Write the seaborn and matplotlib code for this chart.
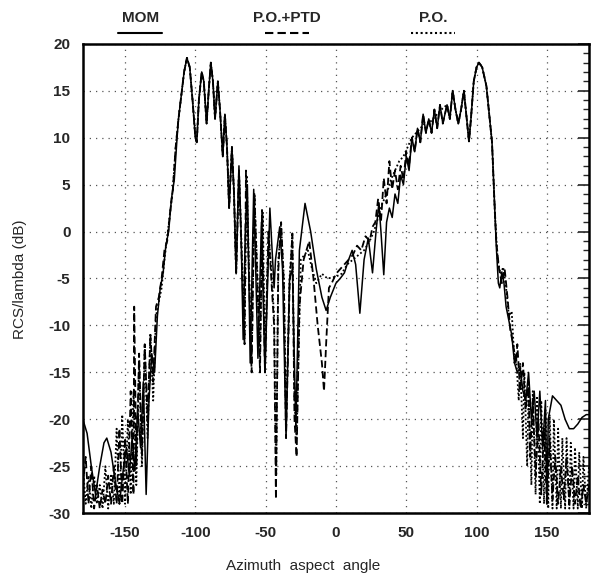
import matplotlib
matplotlib.use("Agg")
import matplotlib.pyplot as plt
from matplotlib.lines import Line2D
from matplotlib.ticker import MultipleLocator
import seaborn as sns
import pandas as pd

# ---------------- data ----------------
mom_angle = [-180, -177, -174, -171, -168, -165, -163, -160, -157, -154, -151, -149, -147, -145,
             -143, -141, -139, -137, -135, -133, -131, -129, -127, -125, -123, -121, -119, -117,
             -115, -113, -112, -110, -108, -106, -104, -102, -100, -99, -97.5, -95.5, -94, -92,
             -90.5, -89, -87.5, -86, -84, -82.5, -80.5, -79, -77.5, -76, -74, -72.5, -71, -69,
             -67.5, -66, -64.5, -63, -61, -58.5, -55.5, -53, -50.5, -47, -44, -43, -40, -38,
             -35.5, -33, -31, -28.5, -26, -22, -18, -14, -10, -7, -4, 0, 3, 6, 9, 11.5, 14, 17,
             20, 23, 26, 28.5, 30.5, 32, 34, 36, 38, 40, 42, 44, 46, 48, 50, 52, 54, 56, 58, 60,
             62, 64, 66, 68, 70, 72, 74, 76, 79, 81, 83, 85, 87, 89, 91, 93, 94.6, 96, 98, 100,
             101.7, 104, 107, 109, 111, 112.5, 114, 115.5, 116.5, 118, 119.5, 121, 123, 125, 127,
             129, 131, 133, 135, 137, 139, 141, 143, 145, 147, 149, 150, 151, 154, 157, 160, 163,
             166, 169, 172, 175, 178, 180]
mom_db = [-20, -21.5, -25, -28, -25, -22.5, -22, -23.5, -26.5, -29, -25, -23, -26, -22,
          -25.5, -19, -23, -16, -28, -18, -13, -15, -9, -6, -4.5, -1.5, 0, 3.5,
          5.5, 10, 12, 14.5, 17, 18.5, 17.5, 14, 10, 9.5, 14, 17, 16, 11.5,
          15, 18, 16, 12, 16, 13, 8, 12.5, 9, 2.5, 9, 4, -4.5, 7,
          0, -11.5, 0, 5, -14, 4.5, -13.5, 1, -15, 2.5, -6, -3, 0.5, -4,
          -22, -5, -4, -21, -2, 3, 0, -4, -7, -8.4, -7, -5.5, -5, -4.4, -3, -2, -3.5, -8.7,
          -3, -0.7, -4.4, 0, 3, 0, -4.6, 1, 2.5, 1.5, 4, 3, 6, 5, 8, 6.5, 10, 8.5, 11, 9.5,
          12.5, 10.5, 12, 10.5, 13, 11, 13.5, 11.5, 13.5, 12, 15, 13, 11.5, 13, 15, 12, 9.6, 12, 16, 17.5,
          18, 17.5, 15.5, 12.5, 9.5, 4, -1.5, -5.5, -6, -4.3, -5.5, -8, -9.5, -11, -14,
          -15, -14.5, -17, -18, -15, -20, -17, -22, -17, -23, -18, -29, -20, -17.5, -18, -18.5, -20,
          -21, -21, -20.5, -19.8, -19.5, -19.5]

ptd_angle = [-180, -178, -176, -174, -172, -170, -168, -166, -164, -162, -160, -158, -156, -154,
             -152, -150, -148, -146, -144, -143.5, -142, -140, -138, -136, -134, -132, -130, -128,
             -126, -124, -122, -120, -118, -116, -114, -112, -110, -108, -106, -104, -102, -100,
             -99, -97.5, -95.5, -94, -92, -90.5, -89, -87.5, -86, -84, -82.5, -80.5, -79, -77.5,
             -76, -74, -72.5, -71, -69, -67, -65, -64, -62, -60, -58, -56, -54, -52.6, -50.5, -48,
             -46, -44, -42.7, -41, -39, -37, -35.5, -33, -31, -29.5, -28, -26, -23, -19, -16, -13,
             -10, -8.5, -7, -5, -3, 0, 3, 6, 9, 12, 15, 18, 21, 24, 26, 28, 30, 32, 34, 36, 38, 40,
             42, 44, 46, 48, 50, 52, 54, 56, 58, 60, 62, 64, 66, 68, 70, 72, 74, 76, 79, 81, 83, 85,
             87, 89, 91, 93, 94.6, 96, 98, 100, 101.7, 104, 107, 109, 111, 112.5, 114, 116, 118,
             120, 122, 124, 126, 128, 129, 131, 133, 135, 137, 138, 140, 142, 144, 146, 148, 150,
             152, 154, 156, 158, 160, 162, 164, 166, 168, 170, 172, 174, 176, 178, 180]
ptd_db = [-27, -24, -29, -25, -29.5, -27, -29.5, -27.5, -29, -26, -29, -25, -29, -21,
          -29, -22, -29, -17, -28, -8, -25, -13, -24, -12, -20, -11, -16, -8,
          -7, -5, -2, -1, 2, 4.5, 9, 12, 14.5, 17, 18.5, 17.5, 14, 10,
          9.5, 14, 17, 16, 11.5, 15, 18, 16, 12, 16, 13, 8, 12.5, 9,
          2.5, 9, 4, -4.5, 6.5, -3, -12, 6.5, -4, -15, 4, -5, -15, 2.3, -15, 0,
          -5, -10, -28.5, -4, 1, -6, -22, -6, -0.2, -20, -24, -8, -3, -1, -5, -10,
          -14, -17, -12, -6, -5.5, -4.5, -4, -3.5, -3, -2.5, -1.5, -2, -0.5, -1, 0.5, 1, 3.5, 1, 5.7, 3, 7.5, 4.5,
          6.5, 4.5, 7, 5.5, 8.5, 7, 10, 8.5, 11, 9.5, 12.5, 10.5, 12, 10.5, 13, 11, 13.5, 11.5, 13.5, 12, 15, 13,
          11.5, 13, 15, 12, 9.6, 12, 16, 17.5, 18, 17.5, 15.5, 12.5, 9.5, 4, -1, -4, -5.5,
          -4, -7, -10.5, -12, -14, -12, -17, -14, -19, -16, -24, -18, -26, -20, -28, -21, -29,
          -22, -28.5, -24, -29, -25, -28.5, -24, -29, -25, -29, -26, -29.5, -27, -29, -27]

po_angle = [-180, -178, -176, -174, -172, -170, -168, -166, -164, -162, -160, -158, -156, -154,
            -152, -150, -148, -146, -144, -142, -140, -138, -136, -134, -132, -130, -128, -126,
            -124, -122, -120, -118, -116, -114, -112, -110, -108, -106, -104, -102, -100, -99,
            -97.5, -95.5, -94, -92, -90.5, -89, -87.5, -86, -84, -82.5, -80.5, -79, -77.5, -76,
            -74, -72.5, -71, -69, -67, -65, -63.5, -62, -60, -58, -56, -54, -52, -50.5, -48, -46,
            -44, -42.5, -41, -39, -37, -35.5, -33, -31, -29.5, -28, -25, -20, -17, -14, -10, -6,
            0, 4, 8, 12, 16, 20, 24, 27, 30, 33, 36, 39, 42, 45, 48, 51, 54, 57, 60, 63, 66, 69,
            72, 75, 79, 81, 83, 85, 87, 89, 91, 93, 94.6, 96, 98, 100, 101.7, 104, 107, 109, 111,
            113, 115, 117, 119, 121, 123, 125, 127, 128, 130, 131, 133, 134, 136, 137, 139, 140,
            142, 143, 145, 146, 148, 149, 151, 152, 154, 155, 157, 158, 160, 161, 163, 164, 166,
            167, 169, 170, 172, 173, 175, 176, 178, 180]
po_db = [-25, -29, -26, -29.5, -26, -29, -27, -29.5, -25, -29.5, -26, -29, -21, -29,
         -19.5, -29, -20, -28, -17, -27, -14, -25, -12, -22, -11, -18, -9, -7.5,
         -6, -3, -0.5, 2, 4.5, 9, 12, 14.5, 17, 18.5, 17.5, 14, 10, 9.5,
         14, 17, 16, 11.5, 15, 18, 16, 12, 16, 13, 8, 12.5, 9, 2.5,
         9, 4, -4.5, 6.5, -2, -11, 6, -3, -14, 4, -4, -13, 2, -14, 0, -4,
         -9, -26, -3, 0.5, -5, -21, -5, -0.5, -18, -22, -3, -2, -4, -5.5, -4.5, -5,
         -4.8, -4.5, -3.5, -3, -2.5, -2, -1, 0, 1.5, 3, 4, 5.5, 6.5, 7.5, 8, 9, 10, 10.5, 11, 11.5, 11.5, 12,
         12.5, 13, 13.5, 12, 15, 13, 11.5, 13, 15, 12, 9.6, 12, 16, 17.5, 18, 17.5, 15.5, 12.5, 9.5,
         2, -3, -4.5, -3.8, -6, -9, -8.5, -14, -13, -18, -14, -22, -15, -25, -16.5, -27, -17,
         -28, -17.5, -29, -18, -29, -19, -29.5, -19.5, -29.5, -20, -29.5, -21, -29.5, -22, -29.5, -22, -29.5,
         -22.5, -29.5, -23, -29.5, -23.5, -29.5, -24, -29.5, -25]

legend_labels = ["MOM", "P.O.+PTD", "P.O."]
x_ticks = [-150, -100, -50, 0, 50, 100, 150]
y_ticks = [-30, -25, -20, -15, -10, -5, 0, 5, 10, 15, 20]

# ---------------- figure ----------------
sns.set_style("white")
plt.rcParams["font.family"] = ["Liberation Sans", "DejaVu Sans"]
plt.rcParams["axes.unicode_minus"] = False

fig = plt.figure(figsize=(5.92, 5.76), dpi=100)
ax = fig.add_axes([0.140, 0.109, 0.855, 0.815])

df_mom = pd.DataFrame({"angle": mom_angle, "db": mom_db})
df_ptd = pd.DataFrame({"angle": ptd_angle, "db": ptd_db})
df_po = pd.DataFrame({"angle": po_angle, "db": po_db})

sns.lineplot(data=df_po, x="angle", y="db", ax=ax, color="black", lw=1.3,
             linestyle=(0, (1, 1.3)), estimator=None, sort=False)
sns.lineplot(data=df_ptd, x="angle", y="db", ax=ax, color="black", lw=1.3,
             linestyle=(0, (4, 2)), estimator=None, sort=False)
sns.lineplot(data=df_mom, x="angle", y="db", ax=ax, color="black", lw=1.1,
             linestyle="-", estimator=None, sort=False)

ax.set_xlim(-180, 180)
ax.set_ylim(-30, 20)
ax.set_xticks(x_ticks)
ax.set_yticks(y_ticks)
ax.xaxis.set_minor_locator(MultipleLocator(10))
ax.yaxis.set_minor_locator(MultipleLocator(1))
ax.tick_params(axis="both", which="major", direction="in", length=8, width=1.2,
               labelsize=11, pad=9, right=True, top=False)
ax.tick_params(axis="both", which="minor", direction="in", length=4, width=1,
               right=True, top=False)
for lab in ax.get_xticklabels() + ax.get_yticklabels():
    lab.set_fontweight("bold")
ax.grid(True, which="major", linestyle=(0, (1, 4)), color="#555555", lw=0.9)
for sp in ax.spines.values():
    sp.set_linewidth(1.8)
    sp.set_color("black")
ax.set_xlabel("")
ax.set_ylabel("")

fig.text(0.033, 0.515, "RCS/lambda (dB)", rotation=90, ha="center", va="center",
         fontsize=11)
fig.text(0.512, 0.017, "Azimuth  aspect  angle", ha="center", va="center",
         fontsize=11)

# legend above plot
leg_x = [0.237, 0.485, 0.731]
leg_styles = ["-", (0, (4, 2)), (0, (1, 1.3))]
for lx, lab, ls in zip(leg_x, legend_labels, leg_styles):
    fig.text(lx, 0.968, lab, ha="center", va="center", fontsize=11, fontweight="bold")
    fig.add_artist(Line2D([lx - 0.037, lx + 0.037], [0.943, 0.943], color="black",
                          lw=1.5, linestyle=ls, transform=fig.transFigure))

fig.savefig("out.png", dpi=100)
